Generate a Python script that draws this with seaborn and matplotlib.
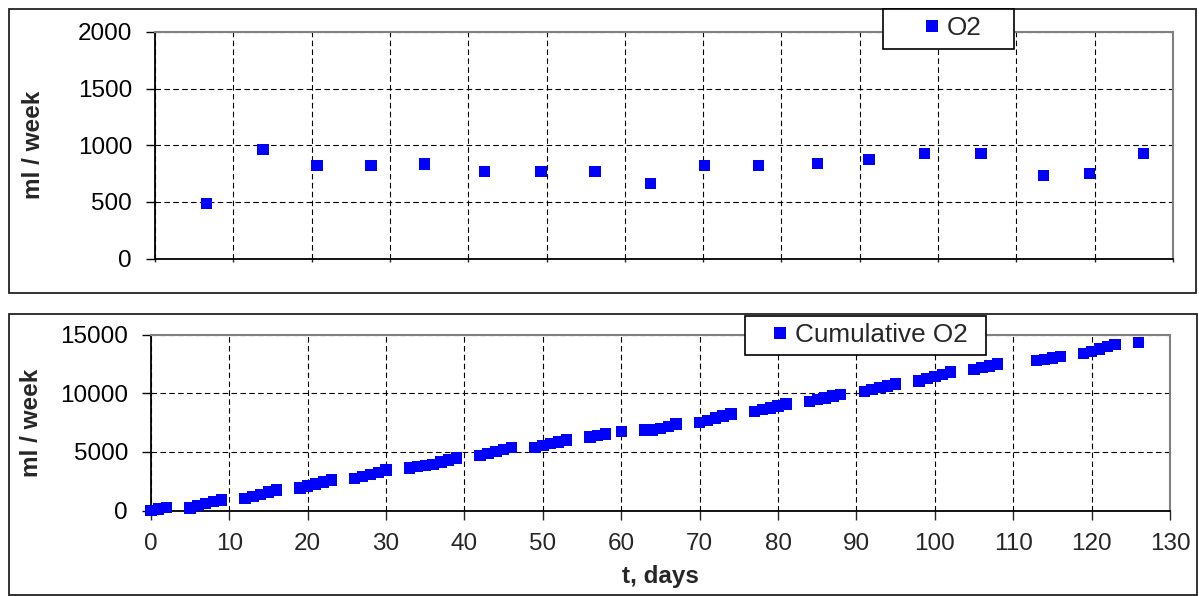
import numpy as np
import pandas as pd
import matplotlib
matplotlib.use("Agg")
import matplotlib.pyplot as plt
import seaborn as sns
from matplotlib.patches import Rectangle
from matplotlib.lines import Line2D

# ---------------- data ----------------
weekly_days = [6.6, 13.8, 20.7, 27.6, 34.4, 42.1, 49.3, 56.2, 63.3, 70.2,
               77.1, 84.6, 91.2, 98.3, 105.5, 113.5, 119.3, 126.2]
weekly_o2 = [486, 960, 821, 821, 836, 766, 766, 766, 660, 822,
             822, 837, 872, 928, 925, 733, 751, 925]

cum_days = [0, 1, 2,
            5, 6, 7, 8, 9,
            12, 13, 14, 15, 16,
            19, 20, 21, 22, 23,
            26, 27, 28, 29, 30,
            33, 34, 35, 36, 37, 38, 39,
            42, 43, 44, 45, 46,
            49, 50, 51, 52, 53,
            56, 57, 58,
            60,
            63, 64, 65, 66, 67,
            70, 71, 72, 73, 74,
            77, 78, 79, 80, 81,
            84, 85, 86, 87, 88,
            91, 92, 93, 94, 95,
            98, 99, 100, 101, 102,
            105, 106, 107, 108,
            113, 114, 115, 116,
            119, 120, 121, 122, 123,
            126]
cum_o2 = [20, 130, 250,
          245, 420, 590, 760, 915,
          1060, 1230, 1400, 1580, 1750,
          1935, 2100, 2270, 2440, 2600,
          2730, 2910, 3090, 3270, 3455,
          3640, 3740, 3840, 3940, 4140, 4310, 4480,
          4725, 4885, 5045, 5205, 5365,
          5405, 5560, 5710, 5865, 6015,
          6270, 6400, 6525,
          6730,
          6870, 6880, 7000, 7180, 7370,
          7525, 7700, 7880, 8050, 8230,
          8435, 8600, 8760, 8920, 9085,
          9300, 9450, 9600, 9760, 9910,
          10150, 10310, 10470, 10630, 10790,
          11045, 11240, 11430, 11620, 11815,
          12030, 12180, 12340, 12495,
          12770, 12890, 13010, 13135,
          13380, 13575, 13770, 13965, 14160,
          14350]

x_ticks = list(range(0, 131, 10))
top_yticks = [0, 500, 1000, 1500, 2000]
bot_yticks = [0, 5000, 10000, 15000]
y_label = "ml / week"
x_label = "t, days"

# ---------------- style ----------------
sns.set_style("white")
plt.rcParams["font.family"] = ["Liberation Sans", "DejaVu Sans"]

W, H = 1199, 596
fig = plt.figure(figsize=(W / 100, H / 100), dpi=100)

def fx(px):
    return px / W

def fy(py):
    return 1 - py / H

BLUE = "#0000FF"
TICK_FS = 17.5
LAB_FS = 17.5
LEG_FS = 18.8
MS = 8.2       # data marker side in points
LEG_MS = 9.0   # legend marker side in points

# outer chart frames
for (x0, y0, x1, y1) in [(8.5, 9, 1196, 292.5), (9, 313.5, 1196.5, 594.5)]:
    fig.add_artist(Rectangle((fx(x0), fy(y1)), fx(x1) - fx(x0), fy(y0) - fy(y1),
                             transform=fig.transFigure, fill=False,
                             ec="#222222", lw=1.3, zorder=1))

ax1 = fig.add_axes([fx(155), fy(258.5), fx(1173) - fx(155), fy(32) - fy(258.5)])
ax2 = fig.add_axes([fx(150.9), fy(510.7), fx(1170) - fx(150.9), fy(334.6) - fy(510.7)])

df1 = pd.DataFrame({"t": weekly_days, "O2": weekly_o2})
df2 = pd.DataFrame({"t": cum_days, "Cumulative O2": cum_o2})

sns.scatterplot(data=df1, x="t", y="O2", ax=ax1, marker="s", s=MS ** 2,
                color=BLUE, edgecolor="none", linewidth=0, legend=False,
                clip_on=False, zorder=3)
sns.scatterplot(data=df2, x="t", y="Cumulative O2", ax=ax2, marker="s", s=MS ** 2,
                color=BLUE, edgecolor="none", linewidth=0, legend=False,
                clip_on=False, zorder=3)

for ax, yt in [(ax1, top_yticks), (ax2, bot_yticks)]:
    ax.set_xlim(0, 130)
    ax.set_ylim(yt[0], yt[-1])
    ax.set_xticks(x_ticks)
    ax.set_yticks(yt)
    ax.set_axisbelow(True)
    ax.grid(True, color="black", linestyle=(0, (5, 3)), lw=0.8)
    for s in ["top", "right"]:
        ax.spines[s].set_color("#808080")
        ax.spines[s].set_linewidth(1.5)
    for s in ["left", "bottom"]:
        ax.spines[s].set_color("black")
        ax.spines[s].set_linewidth(1.3)
    ax.tick_params(axis="y", direction="out", length=6.5, width=1, pad=10,
                   labelsize=TICK_FS, left=True, colors="black")
    ax.set_ylabel(y_label, fontsize=LAB_FS, fontweight="bold", va="center")
    ax.set_xlabel("")

ax1.tick_params(axis="x", direction="out", length=2.5, width=1, bottom=True,
                labelbottom=False)
ax2.tick_params(axis="x", direction="out", length=6.5, width=1, bottom=True,
                pad=9.5, labelsize=TICK_FS)
ax2.set_xlabel(x_label, fontsize=LAB_FS, fontweight="bold", va="center")
ax2.xaxis.set_label_coords(0.4996, (510.7 - 576) / 175.7)
ax1.yaxis.set_label_coords((34 - 155) / 1018, 0.5)
ax2.yaxis.set_label_coords((31 - 150.9) / 1019.1, 0.5)

# legends: white boxed frames + figure legends
for (bx0, by0, bx1, by1), label, mx, my in [
        ((883, 9, 1014, 49), "O2", 932, 28),
        ((745, 315.7, 986, 355), "Cumulative O2", 779.7, 335)]:
    fig.add_artist(Rectangle((fx(bx0), fy(by1)), fx(bx1) - fx(bx0), fy(by0) - fy(by1),
                             transform=fig.transFigure, fc="white", ec="black",
                             lw=1.2, zorder=5))
    h = Line2D([], [], marker="s", ls="none", color=BLUE, markersize=LEG_MS,
               mec="none", mew=0)
    leg = fig.legend([h], [label], loc="center left",
                     bbox_to_anchor=(fx(mx - 6), fy(my)),
                     bbox_transform=fig.transFigure, frameon=False, borderpad=0,
                     borderaxespad=0, handlelength=12 / (LEG_FS * 100 / 72),
                     handletextpad=9 / (LEG_FS * 100 / 72), fontsize=LEG_FS)
    leg.set_zorder(6)

fig.savefig("out.png", dpi=100)
